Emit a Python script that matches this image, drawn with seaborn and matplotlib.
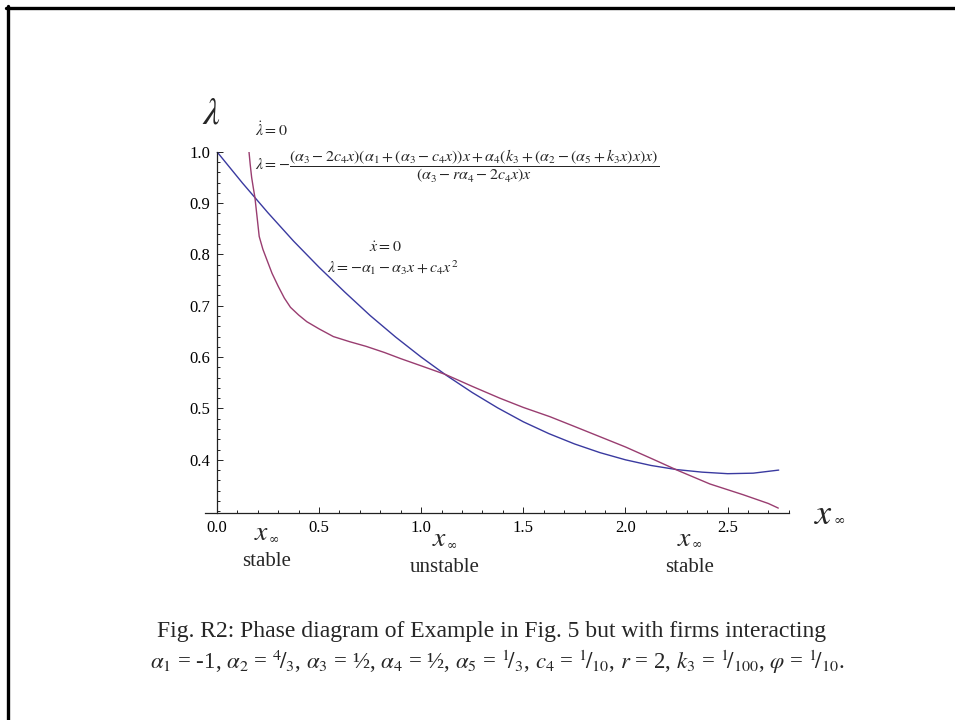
import numpy as np
import pandas as pd
import matplotlib
matplotlib.use('Agg')
import matplotlib.pyplot as plt
import seaborn as sns
from matplotlib.lines import Line2D

# x_dot = 0 nullcline (blue)
x_xdot = [0.0, 0.125, 0.25, 0.375, 0.5, 0.625, 0.75, 0.875, 1.0, 1.125, 1.25, 1.375,
          1.5, 1.625, 1.75, 1.875, 2.0, 2.125, 2.25, 2.375, 2.5, 2.625, 2.75]
lam_xdot = [1.000, 0.939, 0.881, 0.826, 0.775, 0.727, 0.681, 0.639, 0.600, 0.564, 0.531, 0.501,
            0.474, 0.451, 0.431, 0.414, 0.400, 0.389, 0.381, 0.376, 0.373, 0.374, 0.380]

# lambda_dot = 0 nullcline (purple)
x_ldot = [0.157, 0.163, 0.170, 0.178, 0.186, 0.196, 0.207, 0.225, 0.245, 0.270, 0.300, 0.330,
          0.360, 0.400, 0.440, 0.500, 0.570, 0.650, 0.730, 0.820, 0.900, 1.000, 1.120, 1.250,
          1.385, 1.500, 1.630, 1.750, 1.875, 2.000, 2.130, 2.258, 2.413, 2.576, 2.699, 2.748]
lam_ldot = [1.000, 0.975, 0.950, 0.930, 0.911, 0.875, 0.835, 0.810, 0.789, 0.763, 0.738, 0.715,
            0.697, 0.682, 0.669, 0.655, 0.640, 0.630, 0.621, 0.609, 0.597, 0.583, 0.566, 0.543,
            0.520, 0.502, 0.484, 0.465, 0.445, 0.425, 0.402, 0.379, 0.353, 0.332, 0.315, 0.306]

x_major = [0.0, 0.5, 1.0, 1.5, 2.0, 2.5]
x_labels = ['0.0', '0.5', '1.0', '1.5', '2.0', '2.5']
y_major = [0.4, 0.5, 0.6, 0.7, 0.8, 0.9, 1.0]
y_labels = ['0.4', '0.5', '0.6', '0.7', '0.8', '0.9', '1.0']

blue = '#3a3aa0'
purple = '#993d70'

sns.set_theme(style='white')
plt.rcParams['font.family'] = ['Liberation Serif', 'DejaVu Serif']
plt.rcParams['mathtext.fontset'] = 'stix'

fig = plt.figure(figsize=(9.55, 7.2), dpi=100)
ax = fig.add_axes([0.2143, 0.2879, 0.6118, 0.5014])

df_x = pd.DataFrame({'x': x_xdot, 'lam': lam_xdot})
df_l = pd.DataFrame({'x': x_ldot, 'lam': lam_ldot})
sns.lineplot(data=df_x, x='x', y='lam', ax=ax, color=blue, lw=1.0, estimator=None, sort=False)
sns.lineplot(data=df_l, x='x', y='lam', ax=ax, color=purple, lw=1.0, estimator=None, sort=False)

ax.set_xlim(-0.06, 2.8)
ax.set_ylim(0.297, 1.0)
ax.set_xlabel('')
ax.set_ylabel('')

for s in ['top', 'right']:
    ax.spines[s].set_visible(False)
ax.spines['left'].set_position(('data', 0))
for s in ['left', 'bottom']:
    ax.spines[s].set_color('#222222')
    ax.spines[s].set_linewidth(0.9)

ax.set_xticks(x_major)
ax.set_xticklabels(x_labels)
ax.set_xticks([v for v in np.round(np.arange(0.1, 2.81, 0.1), 2) if v not in x_major], minor=True)
ax.set_yticks(y_major)
ax.set_yticklabels(y_labels)
ax.set_yticks([v for v in np.round(np.arange(0.30, 0.99, 0.02), 2) if v not in y_major], minor=True)
ax.tick_params(axis='both', which='both', direction='in', color='#222222', width=0.7,
               labelsize=12, labelcolor='black', bottom=True, left=True)
ax.tick_params(axis='both', which='major', length=4)
ax.tick_params(axis='both', which='minor', length=2.2)
ax.tick_params(axis='x', pad=5)
ax.tick_params(axis='y', pad=5)


def px(x, y):
    return x / 955, 1 - y / 720


def x_inf(cx, cy, size, inf_size):
    # italic x with a small infinity subscript, set just right of it
    fig.text(*px(cx - size * 0.12, cy), r'$x$', fontsize=size, ha='center', va='center')
    fig.text(*px(cx + size * 0.48, cy + size * 0.24), '∞', fontsize=inf_size, ha='center',
             va='center', family=['DejaVu Serif'])


# axis names
fig.text(*px(211, 114), r'$\lambda$', fontsize=27, ha='center', va='center')
x_inf(827, 515, 26, 10)

# nullcline labels
fig.text(*px(255, 131), r'$\dot{\lambda}=0$', fontsize=11.5, ha='left', va='center')
fig.text(*px(255, 166),
         r'$\lambda=-\dfrac{(\alpha_3-2c_4x)(\alpha_1+(\alpha_3-c_4x))x+\alpha_4(k_3+(\alpha_2-(\alpha_5+k_3x)x)x)}'
         r'{(\alpha_3-r\alpha_4-2c_4x)x}$',
         fontsize=11.5, ha='left', va='center')
fig.text(*px(385, 248), r'$\dot{x}=0$', fontsize=11.5, ha='center', va='center')
fig.text(*px(327, 268), r'$\lambda=-\alpha_1-\alpha_3x+c_4x^2$', fontsize=11.5, ha='left', va='center')

# equilibria labels
for cx, y1, y2, word in [(264, 534, 561, 'stable'), (442, 540, 568, 'unstable'), (687, 539, 568, 'stable')]:
    x_inf(cx, y1, 20, 9)
    fig.text(*px(cx + 3, y2), word, fontsize=15, ha='center', va='center')

# caption
fig.text(*px(492, 632), 'Fig. R2: Phase diagram of Example in Fig. 5 but with firms interacting',
         fontsize=17, ha='center', va='center')
fig.text(*px(497, 662),
         r'$\alpha_1$ = -1, $\alpha_2$ = ${}^{4}\!/_{3}$, $\alpha_3$ = ½, $\alpha_4$ = ½, '
         r'$\alpha_5$ = ${}^{1}\!/_{3}$, $c_4$ = ${}^{1}\!/_{10}$, $r$ = 2, '
         r'$k_3$ = ${}^{1}\!/_{100}$, $\varphi$ = ${}^{1}\!/_{10}$.',
         fontsize=16.5, ha='center', va='center')

# slide frame (left and top edges)
fig.add_artist(Line2D([7.7 / 955, 7.7 / 955], [0, 1 - 6.2 / 720], transform=fig.transFigure,
                      color='black', lw=2.4))
fig.add_artist(Line2D([6.2 / 955, 1], [1 - 7.7 / 720, 1 - 7.7 / 720], transform=fig.transFigure,
                      color='black', lw=2.4))

fig.savefig('out.png', dpi=100)
